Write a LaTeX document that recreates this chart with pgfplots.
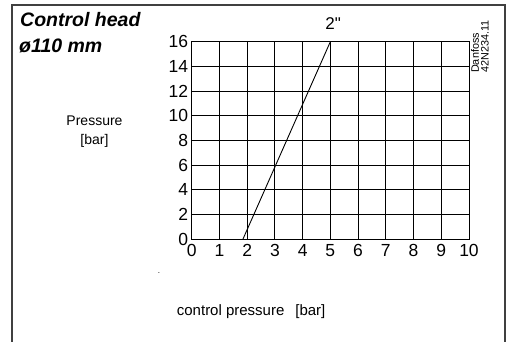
\documentclass[border=0pt]{standalone}
\usepackage{fontspec}
\setmainfont{Liberation Sans}
\newfontfamily\plainquote{Liberation Sans}[Ligatures=TeXOff]
\usepackage{pgfplots}
\pgfplotsset{compat=1.18}

\begin{document}
\begin{tikzpicture}[x=1pt,y=1pt]
\path[use as bounding box] (0,0) rectangle (507,-342);
% open frame
\draw[line width=1.2pt, black!75] (12,-342) -- (12,-5) -- (505,-5) -- (505,-342);

\begin{axis}[
  at={(191.7pt,-239pt)}, anchor=south west,
  scale only axis, width=277.3pt, height=197.3pt,
  xmin=0, xmax=10, ymin=0, ymax=16,
  xtick={0,1,...,10}, ytick={0,2,...,16},
  grid=major, grid style={black, line width=0.8pt},
  axis line style={black, line width=0.9pt},
  major tick length=0pt,
  tick label style={font=\fontsize{17.5}{20}\selectfont},
  /pgf/number format/assume math mode=true,
  xticklabel style={yshift=-2pt},
  clip=false,
]
\addplot[black, line width=0.9pt] coordinates {(1.85,0) (5,16)};
\node[anchor=south, inner sep=0pt, font=\fontsize{17}{20}\selectfont\plainquote]
  at (axis cs:5.1,16) [yshift=12pt] {2"};
\end{axis}

\node[anchor=base west, inner sep=0pt, font=\fontsize{19.5}{22}\selectfont\bfseries\itshape]
  at (20,-27) {Control head};
\node[anchor=base west, inner sep=0pt, font=\fontsize{19.5}{22}\selectfont\bfseries\itshape]
  at (19,-53) {ø110 mm};
\node[anchor=base, inner sep=0pt, align=center, font=\fontsize{14}{19}\selectfont]
  at (94.5,-145) {Pressure\\{[bar]}};
\node[anchor=base west, inner sep=0pt, font=\fontsize{15}{18}\selectfont]
  at (176.7,-316) {control pressure\hspace{0.45em} {[bar]}};
\node[rotate=90, anchor=south west, inner sep=0pt, align=left, font=\fontsize{10.8}{9.8}\selectfont]
  at (489,-73) {Danfoss\\42N234.11};
\node[inner sep=0pt, font=\fontsize{8}{8}\selectfont] at (159,-273) {.};
\end{tikzpicture}
\end{document}
